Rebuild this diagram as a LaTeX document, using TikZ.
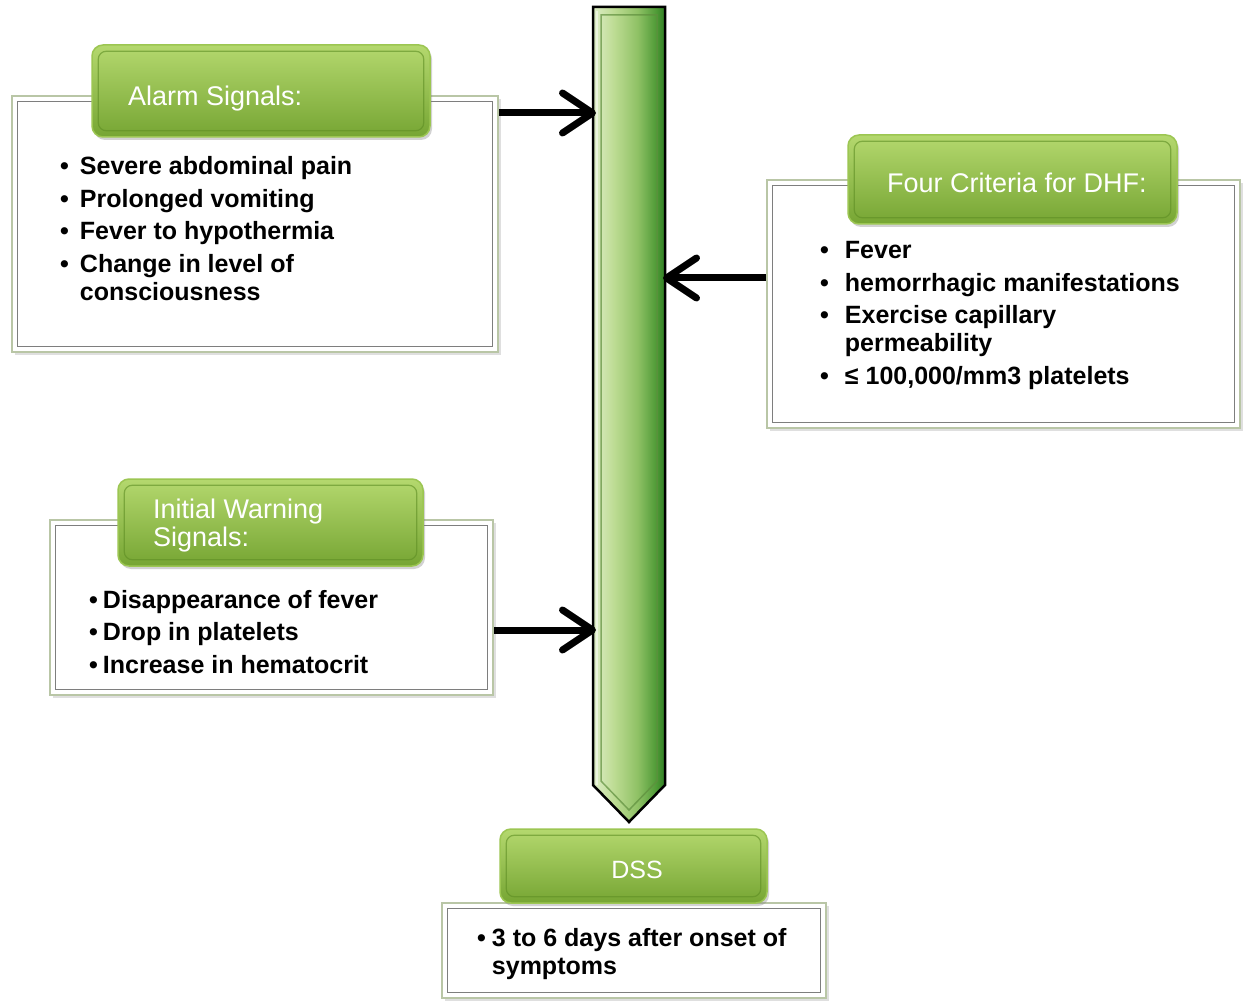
\documentclass[tikz,border=0pt]{standalone}
\usepackage{fontspec}
\setmainfont{Liberation Sans}
\usetikzlibrary{shadows,arrows.meta,calc}
\definecolor{hdrTop}{HTML}{B4D86E}
\definecolor{hdrBot}{HTML}{76A533}
\definecolor{hdrEdge}{HTML}{9CC652}
\definecolor{hdrIn}{HTML}{5E8E24}
\definecolor{boxEdge}{HTML}{B9C6A6}
\definecolor{boxIn}{HTML}{7E7E7E}
\definecolor{barA}{HTML}{DDEDC6}
\definecolor{barB}{HTML}{BCDB92}
\definecolor{barC}{HTML}{8FC165}
\definecolor{barD}{HTML}{4E9A36}
\definecolor{barE}{HTML}{2F7E23}
\definecolor{barIn}{HTML}{5F8F3E}
\pgfdeclarehorizontalshading{barshade}{100bp}{color(0bp)=(barA); color(25bp)=(barA); color(40bp)=(barB); color(56bp)=(barC); color(69bp)=(barD); color(75bp)=(barE); color(100bp)=(barE)}
\tikzset{
  cbox/.style={draw=boxEdge, line width=2.5pt, fill=white, inner sep=0pt,
    drop shadow={shadow xshift=3pt, shadow yshift=-3pt, opacity=0.25}},
  cboxin/.style={draw=boxIn, line width=1.2pt},
  hdr/.style={rounded corners=11pt, top color=hdrTop, bottom color=hdrBot, draw=hdrEdge,
    line width=1.5pt, inner sep=0pt,
    drop shadow={shadow xshift=2pt, shadow yshift=-3pt, opacity=0.35}},
  hdrin/.style={rounded corners=8pt, draw=hdrIn, draw opacity=0.6, line width=1.2pt},
  hdrtxt/.style={inner sep=0pt, font=\fontsize{27}{28}\selectfont, text=white},
  itemtxt/.style={anchor=base west, inner sep=0pt, font=\fontsize{25}{28}\selectfont\bfseries, text=black},
  arr/.style={line width=7pt, -{Straight Barb[length=30pt, width=40pt, line width=7pt, round]}},
}
\begin{document}
\begin{tikzpicture}[x=1pt, y=-1pt]
\useasboundingbox (0,0) rectangle (1243,1003);
\fill[white] (0,0) rectangle (1243,1003);

% central bar
\shadedraw[shading=barshade, draw=black, line width=2.5pt] (593,7) -- (665,7) -- (665,785) -- (629,822) -- (593,785) -- cycle;
\draw[barIn, line width=1.5pt, draw opacity=0.7] (601,15) -- (657,15) -- (657,781) -- (629,810) -- (601,781) -- cycle;
\draw[white, line width=2pt, opacity=0.5] (597,11) -- (597,785);
\coordinate (barL1) at (596,113);
\coordinate (barR) at (663,278);
\coordinate (barL2) at (596,630);
\coordinate (barTip) at (629,822);

% Alarm signals
\node[cbox, minimum width=486, minimum height=256] (alarm) at (255,224) {};
\draw[cboxin] ([shift={(7,7)}]alarm.north west) rectangle ([shift={(-7,-7)}]alarm.south east);
\node[hdr, minimum width=338, minimum height=92] (alarmhdr) at (261,91) {};
\draw[hdrin] ([shift={(7,7)}]alarmhdr.north west) rectangle ([shift={(-7,-7)}]alarmhdr.south east);
\node[hdrtxt, anchor=west] (alarmH) at (128,99) {Alarm Signals:};
\node[itemtxt] (alarmL) at (60,175) {\begin{tabular}[t]{@{}l@{\hspace{11pt}}l@{}}•&Severe abdominal pain\\[4.5pt]
•&Prolonged vomiting\\[4.5pt]
•&Fever to hypothermia\\[4.5pt]
•&Change in level of\\
&consciousness\end{tabular}};

% Four criteria
\node[cbox, minimum width=473, minimum height=248] (dhf) at (1003.5,304) {};
\draw[cboxin] ([shift={(7,7)}]dhf.north west) rectangle ([shift={(-7,-7)}]dhf.south east);
\node[hdr, minimum width=329, minimum height=89] (dhfhdr) at (1012.5,179.5) {};
\draw[hdrin] ([shift={(7,7)}]dhfhdr.north west) rectangle ([shift={(-7,-7)}]dhfhdr.south east);
\node[hdrtxt, anchor=west] (dhfH) at (887,183) {Four Criteria for DHF:};
\node[itemtxt] (dhfL) at (820,259) {\begin{tabular}[t]{@{}l@{\hspace{16pt}}l@{}}•&Fever\\[4.5pt]
•&hemorrhagic manifestations\\[4.5pt]
•&Exercise capillary\\
&permeability\\[4.5pt]
•&≤ 100,000/mm3 platelets\end{tabular}};

% Initial warning signals
\node[cbox, minimum width=443, minimum height=175] (init) at (271.5,607.5) {};
\draw[cboxin] ([shift={(7,7)}]init.north west) rectangle ([shift={(-7,-7)}]init.south east);
\node[hdr, minimum width=305, minimum height=87] (inithdr) at (270.5,522.5) {};
\draw[hdrin] ([shift={(7,7)}]inithdr.north west) rectangle ([shift={(-7,-7)}]inithdr.south east);
\node[hdrtxt, anchor=west, align=left] (initH) at (153,526) {Initial Warning\\Signals:};
\node[itemtxt] (initL) at (89,608) {\begin{tabular}[t]{@{}l@{\hspace{5pt}}l@{}}•&Disappearance of fever\\[4.5pt]
•&Drop in platelets\\[4.5pt]
•&Increase in hematocrit\end{tabular}};

% DSS
\node[cbox, minimum width=384, minimum height=95] (dss) at (634,950.5) {};
\draw[cboxin] ([shift={(7,7)}]dss.north west) rectangle ([shift={(-7,-7)}]dss.south east);
\node[hdr, minimum width=267, minimum height=74] (dsshdr) at (633.5,866) {};
\draw[hdrin] ([shift={(7,7)}]dsshdr.north west) rectangle ([shift={(-7,-7)}]dsshdr.south east);
\node[hdrtxt, font=\fontsize{25}{28}\selectfont] (dssH) at (637,870) {DSS};
\node[itemtxt] (dssL) at (477,946) {\begin{tabular}[t]{@{}l@{\hspace{6pt}}l@{}}•&3 to 6 days after onset of\\
&symptoms\end{tabular}};

% arrows
\draw[arr] (alarm.east |- barL1) -- (barL1);
\draw[arr] (dhf.west |- barR) -- (barR);
\draw[arr] (init.east |- barL2) -- (barL2);
\end{tikzpicture}
\end{document}
